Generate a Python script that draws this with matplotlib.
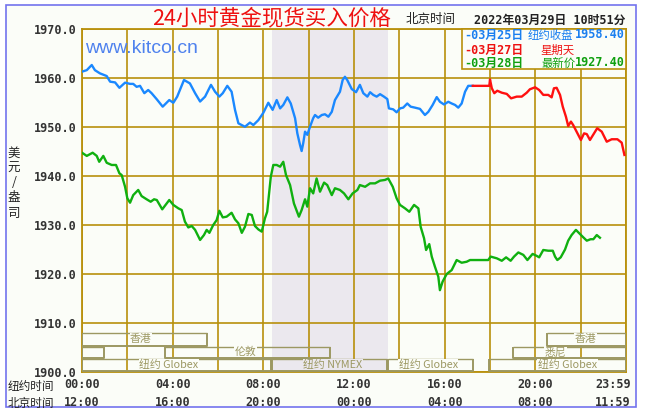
import matplotlib
matplotlib.use('Agg')
import matplotlib.pyplot as plt
from matplotlib.patches import Rectangle
import matplotlib.transforms as mtransforms

# ---- data (hours of New York day, price USD/oz) ----
blue_t = [0.0, 0.21, 0.43, 0.57, 0.79, 1.09, 1.24, 1.46, 1.65, 1.90, 2.12, 2.26, 2.41, 2.56, 2.75, 2.92, 3.07,
          3.30, 3.56, 3.85, 4.03, 4.20, 4.50, 4.76, 4.99, 5.21, 5.43, 5.69, 5.87, 6.06, 6.21, 6.41, 6.60, 6.75,
          6.90, 7.19, 7.41, 7.56, 7.78, 8.00, 8.22, 8.41, 8.59, 8.74, 8.88, 9.06, 9.21, 9.40, 9.50, 9.62, 9.69,
          9.76, 9.84, 9.94, 10.06, 10.20, 10.28, 10.42, 10.58, 10.72, 10.87, 11.02, 11.16, 11.38, 11.50, 11.60,
          11.70, 11.90, 12.09, 12.26, 12.41, 12.59, 12.71, 12.85, 13.00, 13.15, 13.32, 13.47, 13.54, 13.73,
          13.88, 14.03, 14.17, 14.35, 14.50, 14.69, 14.91, 15.13, 15.28, 15.47, 15.65, 15.79, 15.97, 16.16,
          16.31, 16.46, 16.60, 16.75, 16.90, 17.04, 17.24]
blue_v = [1961.3, 1961.6, 1962.65, 1961.6, 1960.95, 1960.4, 1959.25, 1959.1, 1958.0, 1959.05, 1958.8, 1958.8,
          1958.2, 1958.4, 1956.9, 1957.55, 1956.9, 1955.65, 1954.15, 1955.5, 1954.95, 1956.2, 1959.6, 1958.9,
          1956.9, 1955.2, 1956.2, 1958.6, 1957.2, 1956.2, 1956.9, 1958.4, 1957.2, 1953.5, 1950.75, 1950.05,
          1950.9, 1950.4, 1951.4, 1952.9, 1954.95, 1953.5, 1955.5, 1953.8, 1954.5, 1956.05, 1954.8, 1951.8,
          1948.7, 1946.3, 1945.1, 1946.7, 1949.05, 1948.4, 1950.05, 1951.8, 1952.45, 1951.9, 1952.45, 1952.6,
          1952.1, 1953.1, 1955.5, 1957.2, 1959.6, 1960.25, 1959.6, 1957.75, 1957.1, 1958.6, 1956.9, 1956.2,
          1957.1, 1956.55, 1956.2, 1956.7, 1956.2, 1955.7, 1953.8, 1953.6, 1953.0, 1953.8, 1953.95, 1954.8,
          1954.15, 1953.95, 1953.7, 1952.45, 1953.1, 1954.5, 1956.1, 1955.15, 1954.6, 1955.15, 1954.8, 1954.5,
          1953.95, 1954.8, 1957.2, 1958.4, 1958.4]

red_t = [17.24, 17.97, 18.00, 18.08, 18.19, 18.32, 18.52, 18.74, 18.93, 19.18, 19.40, 19.62, 19.76, 19.99,
         20.17, 20.35, 20.57, 20.72, 20.82, 20.94, 21.09, 21.21, 21.35, 21.45, 21.57, 21.67, 21.82, 22.01,
         22.15, 22.27, 22.41, 22.59, 22.73, 22.93, 23.15, 23.37, 23.62, 23.81, 23.93]
red_v = [1958.4, 1958.4, 1959.7, 1957.9, 1956.9, 1957.4, 1957.0, 1956.75, 1955.85, 1956.2, 1956.2, 1957.0,
         1957.7, 1958.1, 1957.55, 1956.55, 1956.55, 1956.05, 1957.9, 1958.0, 1956.55, 1954.15, 1952.1,
         1950.2, 1951.1, 1950.4, 1949.05, 1947.35, 1948.7, 1948.55, 1947.35, 1948.7, 1949.75, 1949.05,
         1947.0, 1947.5, 1947.5, 1946.8, 1944.3]

green_t = [0.0, 0.21, 0.47, 0.65, 0.76, 0.94, 1.09, 1.31, 1.50, 1.65, 1.75, 1.90, 2.00, 2.12, 2.26, 2.48, 2.63,
           2.85, 3.03, 3.18, 3.30, 3.54, 3.85, 4.03, 4.25, 4.40, 4.54, 4.69, 4.84, 4.99, 5.21, 5.38, 5.50, 5.62,
           5.79, 5.94, 6.06, 6.21, 6.38, 6.60, 6.75, 6.90, 7.05, 7.19, 7.34, 7.49, 7.63, 7.78, 7.93, 8.07, 8.17,
           8.33, 8.44, 8.59, 8.74, 8.88, 9.00, 9.18, 9.35, 9.57, 9.69, 9.84, 9.94, 10.06, 10.20, 10.35, 10.50,
           10.68, 10.82, 11.02, 11.16, 11.38, 11.56, 11.75, 11.94, 12.15, 12.26, 12.49, 12.71, 12.93, 13.15,
           13.37, 13.51, 13.71, 13.88, 14.03, 14.25, 14.44, 14.65, 14.84, 14.94, 15.09, 15.18, 15.32, 15.43,
           15.57, 15.72, 15.79, 15.91, 16.09, 16.31, 16.53, 16.75, 16.97, 17.12, 17.92, 18.03, 18.30, 18.52,
           18.71, 18.91, 19.06, 19.25, 19.47, 19.65, 19.88, 20.06, 20.17, 20.35, 20.57, 20.77, 20.87, 20.97,
           21.12, 21.31, 21.45, 21.60, 21.79, 21.94, 22.09, 22.27, 22.44, 22.56, 22.71, 22.85]
green_v = [1944.75, 1944.1, 1944.75, 1944.1, 1942.9, 1944.1, 1942.7, 1942.25, 1942.25, 1940.55, 1940.2, 1937.8,
           1935.45, 1934.55, 1936.1, 1937.15, 1935.9, 1935.25, 1934.75, 1935.25, 1935.1, 1933.2, 1935.1, 1934.1,
           1933.4, 1933.05, 1930.7, 1929.5, 1929.8, 1929.0, 1926.95, 1927.95, 1929.0, 1928.4, 1930.0, 1931.0,
           1932.9, 1931.55, 1931.7, 1932.5, 1931.15, 1930.35, 1928.4, 1929.65, 1932.25, 1932.05, 1929.8, 1929.1,
           1928.65, 1931.35, 1932.7, 1939.85, 1942.25, 1942.25, 1941.9, 1942.9, 1940.2, 1938.15, 1934.4, 1931.7,
           1933.05, 1935.25, 1933.75, 1937.5, 1936.45, 1939.5, 1936.8, 1938.65, 1938.15, 1936.1, 1937.5, 1937.15,
           1936.45, 1935.25, 1936.45, 1937.15, 1938.15, 1937.8, 1938.5, 1938.5, 1939.05, 1939.2, 1939.5, 1937.8,
           1935.45, 1934.1, 1933.4, 1932.7, 1934.1, 1933.4, 1929.65, 1927.3, 1924.9, 1926.1, 1923.55, 1921.5,
           1919.45, 1916.7, 1918.45, 1920.0, 1920.8, 1922.85, 1922.3, 1922.5, 1922.85, 1922.85, 1923.55, 1923.2,
           1922.7, 1923.4, 1922.7, 1923.55, 1924.4, 1923.9, 1922.85, 1924.1, 1923.7, 1923.4, 1924.9, 1924.75,
           1924.75, 1923.55, 1922.85, 1923.4, 1925.0, 1926.8, 1927.95, 1929.0, 1928.3, 1927.6, 1926.8, 1927.1,
           1927.1, 1927.95, 1927.4]

ny_labels = ['00:00', '04:00', '08:00', '12:00', '16:00', '20:00', '23:59']
bj_labels = ['12:00', '16:00', '20:00', '00:00', '04:00', '08:00', '11:59']
tick_hours = [0, 4, 8, 12, 16, 20, 24]

nymex_span = (8.37, 13.5)

sess_name = ['香港', '香港', '', '伦敦', '悉尼', '纽约 Globex', '纽约 NYMEX', '纽约 Globex', '纽约 Globex']
sess_row = [0, 0, 1, 1, 1, 2, 2, 2, 2]
sess_start = [0.0, 20.5, 0.0, 3.66, 19.03, 0.0, 8.37, 13.51, 17.97]
sess_end = [5.5, 24.0, 0.97, 10.93, 24.0, 8.33, 13.47, 17.24, 24.0]
sess_label_at = [2.6, 22.2, 0.5, 7.23, 20.9, 3.84, 11.06, 15.28, 21.42]

# ---- styling ----
W, H = 646, 420
BG = '#fbfdf8'
GRID = '#b8900c'
SHADE = '#ebe8ee'
SESS = '#9c9862'
CJK = 'Noto Sans CJK SC'
MONO_CJK = ['DejaVu Sans Mono', 'Noto Sans CJK SC']


def fx(x):
    return x / W


def fy(y):
    return 1 - y / H


fig = plt.figure(figsize=(6.46, 4.20), dpi=100)
fig.patch.set_facecolor('white')
fig.patches.append(Rectangle((fx(6), fy(407)), (636 - 6) / W, (407 - 5) / H,
                             transform=fig.transFigure, facecolor=BG,
                             edgecolor='#7373ee', lw=1.2, zorder=-5))

ax = fig.add_axes([fx(82), fy(372), (626 - 82) / W, (372 - 29) / H])
ax.set_zorder(1)
ax.set_facecolor(BG)
ax.set_xlim(0, 24)
ax.set_ylim(1900, 1970)
for s in ax.spines.values():
    s.set_color(GRID)
    s.set_linewidth(1.3)

ax.set_xticks(tick_hours)
ax.set_xticks(range(2, 24, 4), minor=True)
ax.set_xticklabels([a + '\n' + b for a, b in zip(ny_labels, bj_labels)],
                   family='DejaVu Sans Mono', fontweight='bold', fontsize=8.5,
                   color='#333333', linespacing=1.55)
ax.set_yticks(range(1900, 1971, 10))
ax.set_yticklabels(['%.1f' % v for v in range(1900, 1971, 10)],
                   family='DejaVu Sans Mono', fontweight='bold', fontsize=8.5, color='#333333')
ax.tick_params(which='both', length=0)
ax.tick_params(axis='y', pad=4)
ax.tick_params(axis='x', pad=4)
last = ax.get_xticklabels()[-1]
last.set_ha('right')
last.set_transform(last.get_transform() + mtransforms.ScaledTranslation(5 / 100, 0, fig.dpi_scale_trans))
ax.grid(which='both', color=GRID, lw=1.2)

ax.axvspan(nymex_span[0], nymex_span[1], color=SHADE, zorder=0.5, lw=0)

ax.plot(blue_t, blue_v, color='#1a88ff', lw=1.7, zorder=3)
ax.plot(red_t, red_v, color='#ff1010', lw=1.7, zorder=3)
ax.plot(green_t, green_v, color='#10b010', lw=1.7, zorder=3)

# trading sessions at the bottom
row_y = [(1905.4, 1907.9), (1902.8, 1905.2), (1900.15, 1902.6)]
for name, r, a, b, at in zip(sess_name, sess_row, sess_start, sess_end, sess_label_at):
    lo, hi = row_y[r]
    ax.plot([a, b], [hi, hi], color=SESS, lw=1.0, zorder=4, solid_capstyle='butt')
    ax.plot([a, a, b, b], [hi, lo, lo, hi], color=SESS, lw=1.4, zorder=6, solid_capstyle='butt')
    if name:
        face = SHADE if nymex_span[0] < at < nymex_span[1] else BG
        ax.text(at, (lo + hi) / 2 + 0.1, name, ha='center', va='center', fontsize=7.8,
                family=CJK, color=SESS, zorder=5,
                bbox=dict(boxstyle='square,pad=0.05', fc=face, ec='none'))

# legend box
ax.add_patch(Rectangle((16.76, 1961.84), 24 - 16.76, 1970 - 1961.84, facecolor=BG,
                       edgecolor=GRID, lw=1.2, zorder=7, clip_on=False))

ax.text(0.12, 1966.0, 'www.kitco.cn', family='Liberation Sans', fontsize=14,
        color='#4f82ee', va='center', ha='left', zorder=7)

# texts around the chart
fig.text(fx(272), fy(18), '24小时黄金现货买入价格', family=CJK, fontsize=15.5,
         color='#ee1111', ha='center', va='center')
fig.text(fx(406), fy(20), '北京时间', family=CJK, fontsize=9, color='#222222',
         ha='left', va='center')
fig.text(fx(474), fy(20), '2022年03月29日 10时51分', family=MONO_CJK, fontweight='bold',
         fontsize=8.5, color='#222222', ha='left', va='center')

leg_rows = [
    (35, '#1a7ff0', '-03月25日', '纽约收盘', 528, '1958.40'),
    (50, '#ee1111', '-03月27日', '星期天', 540, ''),
    (63, '#10a010', '-03月28日', '最新价', 541, '1927.40'),
]
for y, c, d, lab, lx, val in leg_rows:
    fig.text(fx(464), fy(y), d, family=MONO_CJK, fontweight='bold', fontsize=8.5,
             color=c, ha='left', va='center', zorder=10)
    fig.text(fx(lx), fy(y), lab, family=CJK, fontsize=8.2, color=c, ha='left',
             va='center', zorder=10)
    if val:
        fig.text(fx(625), fy(y), val, family='DejaVu Sans Mono', fontweight='bold',
                 fontsize=8.5, color=c, ha='right', va='center', zorder=10)

fig.text(fx(14), fy(183), '美\n元\n/\n盎\n司', family=CJK, fontsize=9, color='#222222',
         ha='center', va='center', linespacing=1.2)
fig.text(fx(8), fy(395), '纽约时间\n北京时间', family=CJK, fontsize=8.4, color='#222222',
         ha='left', va='center', linespacing=1.45)

fig.savefig('out.png', dpi=100, facecolor='white')
